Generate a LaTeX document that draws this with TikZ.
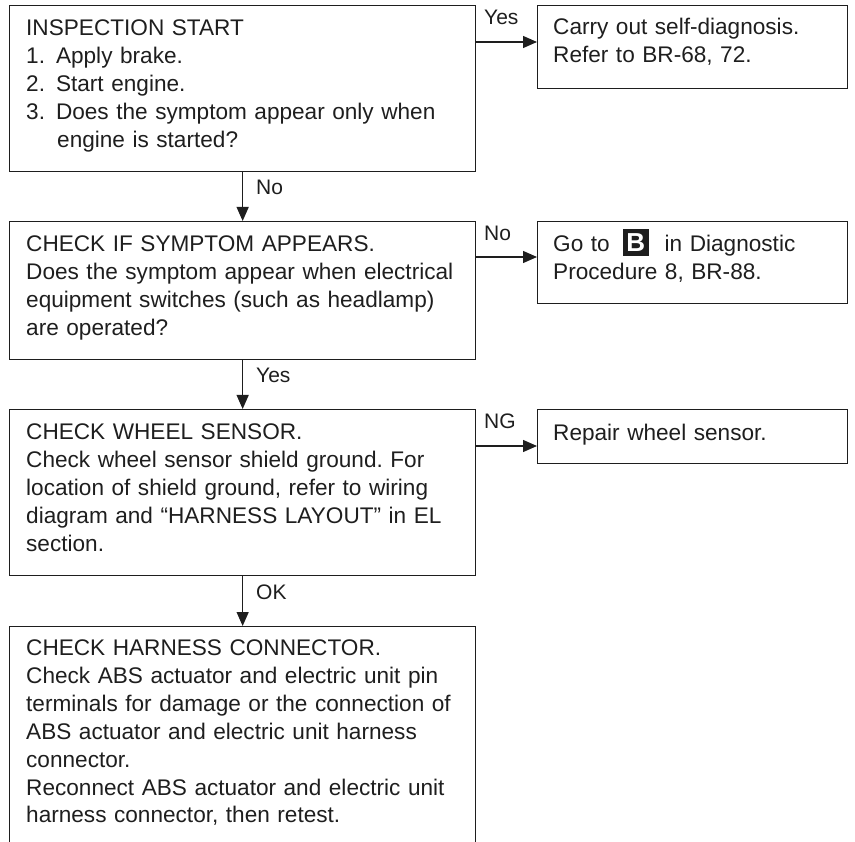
\documentclass[tikz,border=0pt]{standalone}
\usepackage{fontspec}
\setmainfont{Liberation Sans}
\usetikzlibrary{arrows.meta,calc}
\definecolor{ink}{HTML}{1E1E1E}
\frenchspacing
\newcommand{\Bicon}{\raisebox{-4pt}{\setlength{\fboxsep}{0pt}\colorbox{ink}{\makebox[26pt][c]{\rule{0pt}{27pt}\raisebox{4.2pt}{\color{white}\fontsize{26}{26}\selectfont\bfseries B}}}}}
\begin{document}
\begin{tikzpicture}[x=1pt,y=-1pt,
  box/.style={draw=ink,line width=1.3pt,rectangle,inner sep=0pt,anchor=north west},
  txt/.style={anchor=base west,inner sep=0pt,text=ink,align=left,font=\fontsize{22.6}{28}\selectfont\frenchspacing},
  lbl/.style={anchor=base west,inner sep=0pt,text=ink,font=\fontsize{21}{21}\selectfont},
  arr/.style={draw=ink,line width=1.3pt,-{Triangle[length=14pt,width=12pt]}}]
\useasboundingbox (0,0) rectangle (855,842);
% left column boxes
\node[box,minimum width=466pt,minimum height=166pt] (b1) at (9,5) {};
\node[box,minimum width=466pt,minimum height=138pt] (b2) at (9,221) {};
\node[box,minimum width=466pt,minimum height=166pt] (b3) at (9,409) {};
\node[box,minimum width=466pt,minimum height=260pt] (b4) at (9,626) {};
% right column boxes
\node[box,minimum width=310pt,minimum height=83pt] (r1) at (537,5) {};
\node[box,minimum width=310pt,minimum height=82pt] (r2) at (537,221) {};
\node[box,minimum width=310pt,minimum height=54pt] (r3) at (537,409) {};
% texts
\node[txt,text width=448pt] (t1) at (26,36) {INSPECTION START\\1.\hspace{11pt}Apply brake.\\2.\hspace{11pt}Start engine.\\3.\hspace{11pt}Does the symptom appear only when\\\hspace*{31pt}engine is started?};
\node[txt,text width=448pt] (t2) at (26,252) {CHECK IF SYMPTOM APPEARS.\\Does the symptom appear when electrical\\equipment switches (such as headlamp)\\are operated?};
\node[txt,text width=448pt] (t3) at (26,440) {CHECK WHEEL SENSOR.\\Check wheel sensor shield ground. For\\location of shield ground, refer to wiring\\diagram and “HARNESS LAYOUT” in EL\\section.};
\node[txt,text width=448pt] (t4) at (26,655) {CHECK HARNESS CONNECTOR.\\Check ABS actuator and electric unit pin\\terminals for damage or the connection of\\ABS actuator and electric unit harness\\connector.\\Reconnect ABS actuator and electric unit\\harness connector, then retest.};
\node[txt,text width=290pt] (s1) at (553,35) {Carry out self-diagnosis.\\Refer to BR-68, 72.};
\node[txt,text width=290pt] (s2) at (553,252) {Go to\hspace{13pt}\Bicon\hspace{16pt}in Diagnostic\\Procedure 8, BR-88.};
\node[txt,text width=290pt] (s3) at (553,441) {Repair wheel sensor.};
% vertical connectors
\draw[arr] (b1.south) -- (b2.north);
\draw[arr] (b2.south) -- (b3.north);
\draw[arr] (b3.south) -- (b4.north);
\node[lbl] (l1) at (256,195) {No};
\node[lbl] (l2) at (256,383) {Yes};
\node[lbl] (l3) at (256,599) {OK};
% horizontal connectors
\coordinate (a1) at ([yshift=-37pt]b1.north east);
\coordinate (a2) at ([yshift=-36pt]b2.north east);
\coordinate (a3) at ([yshift=-37pt]b3.north east);
\draw[arr] (a1) -- (a1 -| r1.west);
\draw[arr] (a2) -- (a2 -| r2.west);
\draw[arr] (a3) -- (a3 -| r3.west);
\node[lbl] (l4) at (484,25) {Yes};
\node[lbl] (l5) at (484,241) {No};
\node[lbl] (l6) at (484,429) {NG};
\end{tikzpicture}
\end{document}
